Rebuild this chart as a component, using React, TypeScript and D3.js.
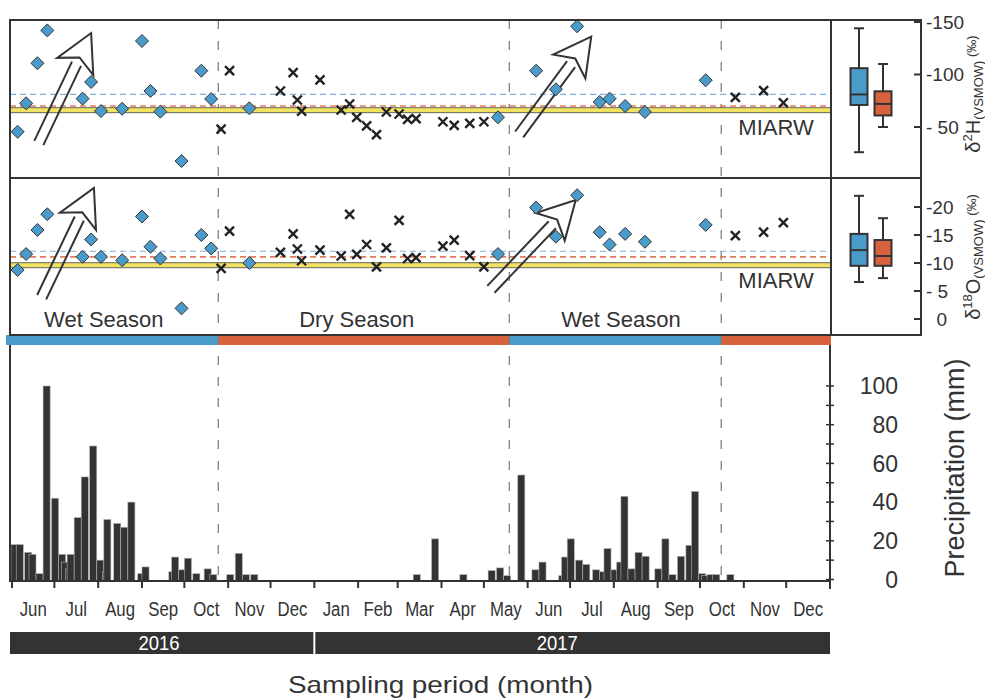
import React, { useRef, useEffect } from 'react';
import * as d3 from 'd3';

// isotope samples (W = wet season diamond, D = dry season cross)
const sampleDates = [
  '2016-06-05', '2016-06-11', '2016-06-19', '2016-06-26', '2016-07-21', '2016-07-27', '2016-08-03',
  '2016-08-18', '2016-09-01', '2016-09-07', '2016-09-14', '2016-09-29', '2016-10-13', '2016-10-20',
  '2016-10-27', '2016-11-02', '2016-11-16', '2016-12-08', '2016-12-17', '2016-12-20', '2016-12-23',
  '2017-01-05', '2017-01-20', '2017-01-26', '2017-01-31', '2017-02-07', '2017-02-14', '2017-02-21',
  '2017-03-02', '2017-03-08', '2017-03-14', '2017-04-02', '2017-04-10', '2017-04-21', '2017-05-01',
  '2017-05-11', '2017-06-07', '2017-06-21', '2017-07-06', '2017-07-22', '2017-07-29', '2017-08-09',
  '2017-08-23', '2017-10-05', '2017-10-26', '2017-11-15', '2017-11-29',
];
const sampleKind = [
  'W', 'W', 'W', 'W', 'W', 'W', 'W', 'W', 'W', 'W', 'W', 'W', 'W', 'W',
  'D', 'D', 'W', 'D', 'D', 'D', 'D',
  'D', 'D', 'D', 'D', 'D', 'D', 'D', 'D', 'D', 'D', 'D', 'D', 'D', 'D',
  'W', 'W', 'W', 'W', 'W', 'W', 'W', 'W', 'W', 'D', 'D', 'D',
];
const d2H = [
  -45.5, -72.6, -110.7, -142, -77, -92.9, -65.2, -67.4, -131.9, -84.3, -64.6, -17.6, -103.6, -76.7,
  -48, -103.6, -67.8, -84.3, -101.7, -75.7, -65.2,
  -94.8, -66.2, -71.9, -59.2, -51, -42.7, -64.3, -62.4, -57.3, -57.9, -55, -51.6, -53.5, -55,
  -59.2, -103.6, -85.9, -145.9, -73.8, -77, -70, -64.3, -94.5, -78.3, -84.6, -73.1,
];
const d18O = [
  -8.75, -11.6, -15.9, -18.7, -11.1, -14.2, -11.1, -10.5, -18.3, -12.9, -10.8, -1.9, -15, -12.6,
  -9.05, -15.7, -10, -11.9, -15.2, -12.5, -10.4,
  -12.3, -11.25, -18.7, -11.55, -13.3, -9.3, -12.7, -17.6, -10.8, -10.95, -13, -14.1, -11.3, -9.3,
  -11.6, -19.9, -14.7, -22.1, -15.5, -13.3, -15.2, -13.8, -16.8, -14.9, -15.5, -17.2,
];

// box plots: [min, q1, median, q3, max]
const boxSeasons = ['Wet', 'Dry'];
const boxH = [[-26, -71, -81, -106, -144], [-50, -61, -72, -84, -110]];
const boxO = [[-6.6, -9.5, -12.3, -15.2, -22], [-7.3, -9.5, -11.25, -14.1, -18]];

// reference lines: wet mean, dry mean, MIARW
const refH = [-81, -70, -66];
const refO = [-12.1, -11.1, -9.6];

// precipitation (mm), bar start date
const precipDates = [
  '2016-05-31', '2016-06-04', '2016-06-10', '2016-06-13', '2016-06-18', '2016-06-23', '2016-06-29',
  '2016-07-04', '2016-07-06', '2016-07-09', '2016-07-10', '2016-07-15', '2016-07-20', '2016-07-26',
  '2016-07-31', '2016-08-04', '2016-08-05', '2016-08-12', '2016-08-17', '2016-08-22', '2016-08-29',
  '2016-09-01', '2016-09-20', '2016-09-22', '2016-09-27', '2016-10-01', '2016-10-07', '2016-10-15',
  '2016-10-19', '2016-10-31', '2016-11-06', '2016-11-11', '2016-11-17',
  '2017-03-12', '2017-03-25', '2017-04-14', '2017-05-04', '2017-05-10', '2017-05-15', '2017-05-25',
  '2017-06-04', '2017-06-09', '2017-06-23', '2017-06-25', '2017-06-29', '2017-07-05', '2017-07-10',
  '2017-07-17', '2017-07-22', '2017-07-25', '2017-07-30', '2017-08-03', '2017-08-06', '2017-08-11',
  '2017-08-16', '2017-08-21', '2017-08-30', '2017-09-04', '2017-09-09', '2017-09-15', '2017-09-21',
  '2017-09-25', '2017-09-30', '2017-10-02', '2017-10-06', '2017-10-10', '2017-10-20',
];
const precipMm = [
  18, 18, 14, 13, 3, 100, 42,
  13, 9, 5.5, 13, 32, 53, 69,
  10, 4, 31, 29, 27, 40, 3,
  6.5, 4, 11.6, 5, 11, 3, 5.5,
  2.5, 2.5, 13.5, 2.5, 2.5,
  2.5, 21, 2.5, 4.6, 6, 2, 54,
  5, 9, 2, 11.6, 21, 10, 7.8,
  5, 4, 16, 5, 9, 43, 5.5,
  14, 12, 5.5, 21, 2.5, 12, 17.7,
  45.5, 3, 2, 2.5, 2.5, 2.5,
];

// season boundaries
const seasonBreaks = ['2016-10-25', '2017-05-19', '2017-10-16'];
const seasonKinds = ['W', 'D', 'W', 'D'];
const seasonLabels = ['Wet Season', 'Dry Season', 'Wet Season'];
const seasonLabelDates = ['2016-08-05', '2017-01-31', '2017-08-06'];

// annotation arrows [tail date, tail value, tip date, tip value]
const arrowsH = [['2016-06-20', -34.8, '2016-07-27', -139.5], ['2017-05-26', -42.9, '2017-07-16', -136]];
const arrowsO = [['2016-06-22', -3.9, '2016-07-29', -23.4], ['2017-05-06', -5.3, '2017-07-05', -21.25]];

const ticksH = [-150, -100, -50];
const ticksHLabels = ['-150', '-100', '- 50'];
const ticksO = [-20, -15, -10, -5, 0];
const ticksOLabels = ['-20', '-15', '-10', '- 5', '\u00a0\u00a00'];
const ticksP = [0, 20, 40, 60, 80, 100];
const years = ['2016', '2017'];
const yearLabelDates = ['2016-09-13', '2017-06-22'];

const BLUE = '#4a9bc9';
const ORANGE = '#d8623d';
const INK = '#333333';

function App() {
  const ref = useRef<HTMLDivElement>(null);

  useEffect(() => {
    const root = d3.select(ref.current);
    root.select('svg').remove();

    const svg = root.append('svg')
      .attr('width', 985).attr('height', 699)
      .style('position', 'absolute').style('left', '0px').style('top', '0px')
      .style('font-family', '"Liberation Sans", Arial, sans-serif');

    const parse = d3.timeParse('%Y-%m-%d');
    const x = d3.scaleTime()
      .domain([parse('2016-06-01') as Date, parse('2018-01-01') as Date])
      .range([12, 830]);
    const L = 10, R = 831, BR = 921;

    const yH = d3.scaleLinear().domain([0, -150]).range([179.5, 22]);
    const yO = d3.scaleLinear().domain([0, -20]).range([319, 207]);
    const yP = d3.scaleLinear().domain([0, 100]).range([579.5, 386]);
    const bx = d3.scalePoint().domain(boxSeasons).range([859, 883]);

    const breaksX = seasonBreaks.map(d => x(parse(d) as Date));

    const panels = [
      { top: 20, bottom: 178, y: yH, vals: d2H, box: boxH, ref: refH, arrows: arrowsH, ticks: ticksH, labels: ticksHLabels, miarwY: 135 },
      { top: 178, bottom: 335, y: yO, vals: d18O, box: boxO, ref: refO, arrows: arrowsO, ticks: ticksO, labels: ticksOLabels, miarwY: 288 },
    ];

    // season bar
    const segX = [6, ...breaksX, R];
    seasonKinds.forEach((k, i) => {
      svg.append('rect')
        .attr('x', segX[i]).attr('y', 335)
        .attr('width', segX[i + 1] - segX[i]).attr('height', 10)
        .attr('fill', k === 'W' ? BLUE : ORANGE);
    });

    // precipitation bars
    const barW = x(parse('2016-06-06') as Date) - x(parse('2016-06-01') as Date);
    precipDates.forEach((d, i) => {
      const x0 = x(parse(d) as Date);
      svg.append('rect')
        .attr('x', Math.max(x0, L + 1)).attr('y', yP(precipMm[i]))
        .attr('width', barW).attr('height', yP(0) - yP(precipMm[i]) + 1)
        .attr('fill', INK).attr('stroke', '#b0b0b0').attr('stroke-width', 0.6);
    });

    // dashed season lines
    breaksX.forEach(bxv => {
      svg.append('line')
        .attr('x1', bxv).attr('x2', bxv).attr('y1', 20).attr('y2', 581)
        .attr('stroke', '#777').attr('stroke-width', 1.2).attr('stroke-dasharray', '9,12');
    });

    panels.forEach(p => {
      const g = svg.append('g');
      // reference lines
      g.append('line').attr('x1', L).attr('x2', R).attr('y1', p.y(p.ref[0])).attr('y2', p.y(p.ref[0]))
        .attr('stroke', '#7db0e0').attr('stroke-width', 1.2).attr('stroke-dasharray', '6,4');
      g.append('line').attr('x1', L).attr('x2', R).attr('y1', p.y(p.ref[1])).attr('y2', p.y(p.ref[1]))
        .attr('stroke', '#e07f5e').attr('stroke-width', 1.6).attr('stroke-dasharray', '6,4');
      g.append('rect').attr('x', L).attr('width', R - L).attr('y', p.y(p.ref[2]) - 2.5).attr('height', 5)
        .attr('fill', '#f1e361').attr('stroke', '#555').attr('stroke-width', 0.9);
      g.append('text').attr('x', 776).attr('y', p.miarwY).attr('text-anchor', 'middle')
        .attr('font-size', 22).attr('fill', INK).text('MIARW');

      // arrows
      p.arrows.forEach(a => {
        const x0 = x(parse(a[0] as string) as Date), y0 = p.y(a[1] as number);
        const x1 = x(parse(a[2] as string) as Date), y1 = p.y(a[3] as number);
        const len = Math.hypot(x1 - x0, y1 - y0);
        const ux = (x1 - x0) / len, uy = (y1 - y0) / len, nx = -uy, ny = ux;
        const pt = (a1: number, b1: number) => [x1 + ux * a1 + nx * b1, y1 + uy * a1 + ny * b1];
        [-5, 5].forEach(o => {
          const e = pt(-34, o);
          g.append('line').attr('x1', x0 + nx * o).attr('y1', y0 + ny * o)
            .attr('x2', e[0]).attr('y2', e[1]).attr('stroke', INK).attr('stroke-width', 2);
        });
        const head = [pt(0, 0), pt(-37, 20), pt(-27, 0), pt(-37, -20)];
        g.append('path').attr('d', 'M' + head.map(q => q.join(',')).join('L') + 'Z')
          .attr('fill', 'white').attr('stroke', INK).attr('stroke-width', 2).attr('stroke-linejoin', 'miter');
      });

      // points
      sampleDates.forEach((d, i) => {
        const cx = x(parse(d) as Date), cy = p.y(p.vals[i]);
        if (sampleKind[i] === 'W') {
          const s = 6.5;
          g.append('path').attr('d', `M${cx},${cy - s}L${cx + s},${cy}L${cx},${cy + s}L${cx - s},${cy}Z`)
            .attr('fill', BLUE).attr('stroke', INK).attr('stroke-width', 1);
        } else {
          const s = 4.5;
          g.append('path').attr('d', `M${cx - s},${cy - s}L${cx + s},${cy + s}M${cx - s},${cy + s}L${cx + s},${cy - s}`)
            .attr('stroke', '#222').attr('stroke-width', 2.4);
        }
      });

      // box plots
      boxSeasons.forEach((s, i) => {
        const b = p.box[i];
        const c = bx(s) as number;
        const hw = 8.5;
        g.append('line').attr('x1', c).attr('x2', c).attr('y1', p.y(b[0])).attr('y2', p.y(b[4]))
          .attr('stroke', INK).attr('stroke-width', 2);
        [b[0], b[4]].forEach(v => {
          g.append('line').attr('x1', c - 5).attr('x2', c + 5).attr('y1', p.y(v)).attr('y2', p.y(v))
            .attr('stroke', INK).attr('stroke-width', 2);
        });
        g.append('rect').attr('x', c - hw).attr('width', hw * 2)
          .attr('y', p.y(b[3])).attr('height', p.y(b[1]) - p.y(b[3]))
          .attr('fill', i === 0 ? BLUE : ORANGE).attr('stroke', INK).attr('stroke-width', 2);
        g.append('line').attr('x1', c - hw).attr('x2', c + hw).attr('y1', p.y(b[2])).attr('y2', p.y(b[2]))
          .attr('stroke', INK).attr('stroke-width', 2);
      });

      // right ticks + labels
      p.ticks.forEach((t, i) => {
        g.append('line').attr('x1', BR - 7).attr('x2', BR).attr('y1', p.y(t)).attr('y2', p.y(t))
          .attr('stroke', INK).attr('stroke-width', 2);
        g.append('text').attr('x', 926).attr('y', p.y(t)).attr('dy', '0.36em')
          .attr('font-size', 19).attr('fill', INK).style('white-space', 'pre').text(p.labels[i]);
      });

      // frames
      g.append('rect').attr('x', L).attr('y', p.top).attr('width', R - L).attr('height', p.bottom - p.top)
        .attr('fill', 'none').attr('stroke', INK).attr('stroke-width', 2);
      g.append('rect').attr('x', R).attr('y', p.top).attr('width', BR - R).attr('height', p.bottom - p.top)
        .attr('fill', 'none').attr('stroke', INK).attr('stroke-width', 2);
    });

    // season labels
    seasonLabels.forEach((s, i) => {
      svg.append('text').attr('x', x(parse(seasonLabelDates[i]) as Date)).attr('y', 327)
        .attr('text-anchor', 'middle').attr('font-size', 22).attr('fill', INK).text(s);
    });

    // y titles
    const titles = [{ y: 94, sup: '2', el: 'H' }, { y: 257, sup: '18', el: 'O' }];
    titles.forEach(tt => {
      const t = svg.append('text').attr('transform', `translate(980,${tt.y}) rotate(-90)`)
        .attr('text-anchor', 'middle').attr('fill', INK).attr('font-size', 20);
      t.append('tspan').text('δ');
      t.append('tspan').attr('font-size', 13).attr('dy', -8).text(tt.sup);
      t.append('tspan').attr('dy', 8).text(tt.el);
      t.append('tspan').attr('font-size', 13).attr('dy', 3).text('(VSMOW)');
      t.append('tspan').attr('font-size', 13).attr('dy', -7).text(' (‰)');
    });

    // precipitation axes
    svg.append('line').attr('x1', L).attr('x2', L).attr('y1', 345).attr('y2', 582)
      .attr('stroke', INK).attr('stroke-width', 2);
    svg.append('line').attr('x1', L).attr('x2', R).attr('y1', 581).attr('y2', 581)
      .attr('stroke', INK).attr('stroke-width', 2);
    svg.append('line').attr('x1', 830).attr('x2', 830).attr('y1', 345).attr('y2', 589)
      .attr('stroke', INK).attr('stroke-width', 2);
    d3.range(0, 101, 10).forEach(v => {
      svg.append('line').attr('x1', 826).attr('x2', 834).attr('y1', yP(v)).attr('y2', yP(v))
        .attr('stroke', INK).attr('stroke-width', 1.5);
    });
    ticksP.forEach(v => {
      svg.append('text').attr('x', 898).attr('y', yP(v)).attr('dy', '0.36em').attr('text-anchor', 'end')
        .attr('font-size', 23).attr('fill', INK).text(String(v));
    });
    svg.append('text').attr('transform', 'translate(964,468) rotate(-90)').attr('text-anchor', 'middle')
      .attr('font-size', 27).attr('fill', INK).text('Precipitation (mm)');

    // month ticks and labels
    const months = d3.timeMonths(x.domain()[0], d3.timeDay.offset(x.domain()[1], 1));
    months.forEach(m => {
      svg.append('line').attr('x1', x(m)).attr('x2', x(m)).attr('y1', 581).attr('y2', 588)
        .attr('stroke', INK).attr('stroke-width', 2);
    });
    months.slice(0, -1).forEach(m => {
      const next = d3.timeMonth.offset(m, 1);
      svg.append('text')
        .attr('transform', `translate(${(x(m) + x(next)) / 2},616) scale(0.8,1)`)
        .attr('text-anchor', 'middle').attr('font-size', 21).attr('fill', INK)
        .text(d3.timeFormat('%b')(m));
    });

    // year bars
    const yearEdges = [L, x(parse('2017-01-01') as Date), 830];
    years.forEach((yr, i) => {
      const x0 = yearEdges[i] + (i === 0 ? 0 : 1);
      const x1 = yearEdges[i + 1] - (i === 0 ? 1 : 0);
      svg.append('rect').attr('x', x0).attr('y', 632).attr('width', x1 - x0).attr('height', 22)
        .attr('fill', INK);
      svg.append('text').attr('transform', `translate(${x(parse(yearLabelDates[i]) as Date)},650) scale(0.88,1)`)
        .attr('text-anchor', 'middle')
        .attr('font-size', 21).attr('fill', 'white')
        .text(yr);
    });

    svg.append('text').attr('x', 440.5).attr('y', 693).attr('text-anchor', 'middle')
      .attr('font-size', 24).attr('fill', INK)
      .attr('textLength', 305).attr('lengthAdjust', 'spacingAndGlyphs')
      .text('Sampling period (month)');
  }, []);

  return <div ref={ref}></div>;
}

export default App;
